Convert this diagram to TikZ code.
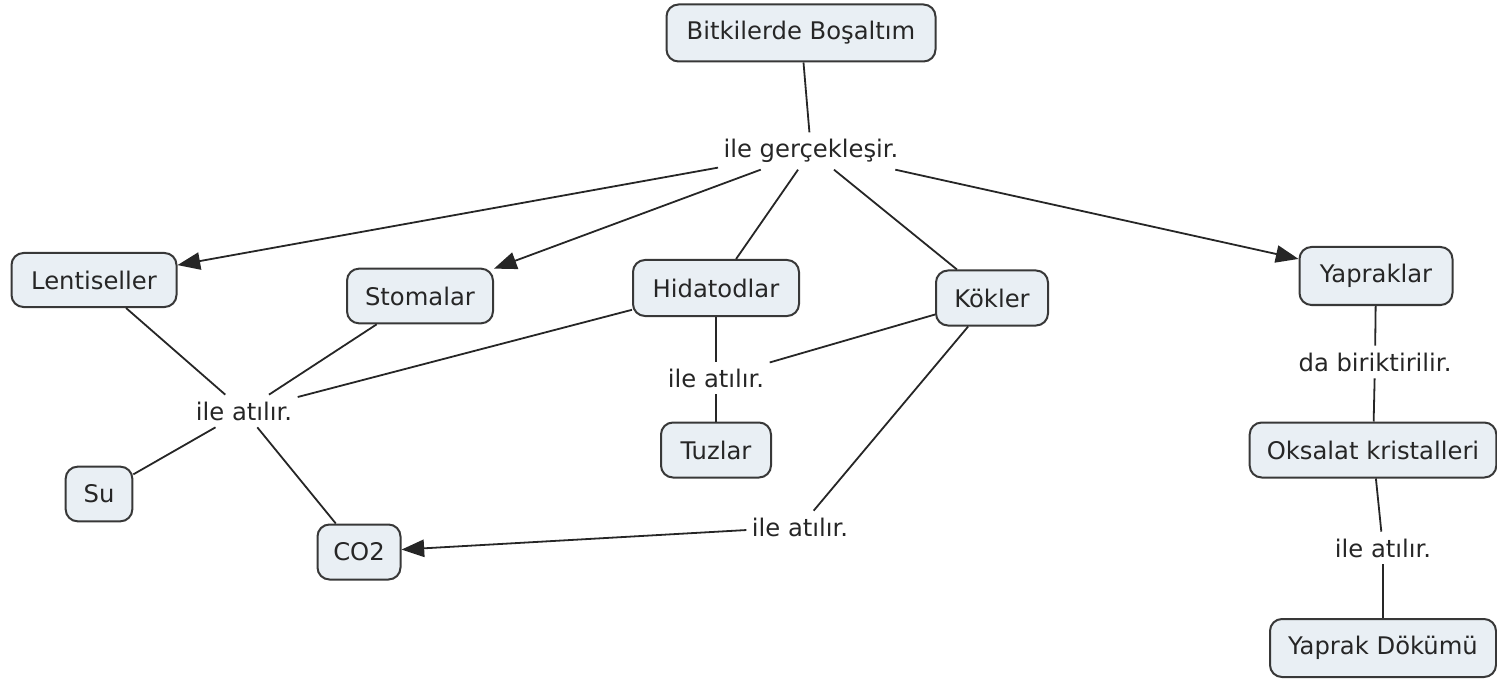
\documentclass[tikz,border=0pt]{standalone}
\usepackage{fontspec}
\setmainfont{DejaVu Sans}
\usetikzlibrary{arrows.meta}
\definecolor{conceptfill}{HTML}{E9EFF4}
\definecolor{conceptline}{HTML}{383838}
\definecolor{inktext}{HTML}{262626}
\begin{document}
\begin{tikzpicture}[x=0.75pt,y=-0.75pt,
  every node/.style={font=\fontsize{18.2pt}{21pt}\selectfont, text=inktext},
  concept/.style={draw=conceptline, line width=1.5pt, fill=conceptfill,
    rounded corners=9pt, inner sep=0pt, align=center},
  phrase/.style={inner xsep=4pt, inner ysep=5pt},
  link/.style={draw=black!85, line width=1.35pt},
  arrowlink/.style={link, -{Triangle[length=17pt,width=13pt]}}]
  \useasboundingbox (0,0) rectangle (1497,681);

  % concepts
  \node[concept, minimum width=201.75pt, minimum height=42.75pt] (root) at (801,33) {Bitkilerde Boşaltım};
  \node[concept, minimum width=123.75pt, minimum height=40.5pt] (lent) at (94,280) {Lentiseller};
  \node[concept, minimum width=109.5pt, minimum height=41pt] (stom) at (420,296) {Stomalar};
  \node[concept, minimum width=124.5pt, minimum height=42pt] (hida) at (716,288) {Hidatodlar};
  \node[concept, minimum width=84pt, minimum height=41.25pt] (kok) at (992,298) {Kökler};
  \node[concept, minimum width=114.75pt, minimum height=43.5pt] (yap) at (1376,276) {Yapraklar};
  \node[concept, minimum width=185pt, minimum height=41.25pt] (oks) at (1373,450) {Oksalat kristalleri};
  \node[concept, minimum width=169.5pt, minimum height=43.5pt] (dok) at (1383,648) {Yaprak Dökümü};
  \node[concept, minimum width=82.5pt, minimum height=41.25pt] (tuz) at (716,450) {Tuzlar};
  \node[concept, minimum width=50pt, minimum height=41pt] (su) at (99,494) {Su};
  \node[concept, minimum width=62.25pt, minimum height=41.25pt] (co) at (359,552) {CO2};

  % linking phrases
  \node[phrase] (gercek) at (811,151) {ile gerçekleşir.};
  \node[phrase] (atL) at (244,411) {ile atılır.};
  \node[phrase] (atM) at (716,378) {ile atılır.};
  \node[phrase] (atB) at (800,527) {ile atılır.};
  \node[phrase] (birik) at (1375,362) {da biriktirilir.};
  \node[phrase] (atR) at (1383,548) {ile atılır.};

  % connectors
  \draw[link] (root) -- (gercek);
  \draw[arrowlink] (gercek) -- (lent);
  \draw[arrowlink] (gercek) -- (stom);
  \draw[link] (gercek) -- (hida);
  \draw[link] (gercek) -- (kok);
  \draw[arrowlink] (gercek) -- (yap);

  \draw[link] (lent) -- (atL);
  \draw[link] (stom) -- (atL);
  \draw[link] (hida) -- (atL);
  \draw[link] (atL) -- (su);
  \draw[link] (atL) -- (co);

  \draw[link] (hida) -- (atM);
  \draw[link] (kok) -- (atM);
  \draw[link] (atM) -- (tuz);

  \draw[link] (kok) -- (atB);
  \draw[arrowlink] (atB) -- (co);

  \draw[link] (yap) -- (birik);
  \draw[link] (birik) -- (oks);
  \draw[link] (oks) -- (atR);
  \draw[link] (atR) -- (dok);
\end{tikzpicture}
\end{document}
